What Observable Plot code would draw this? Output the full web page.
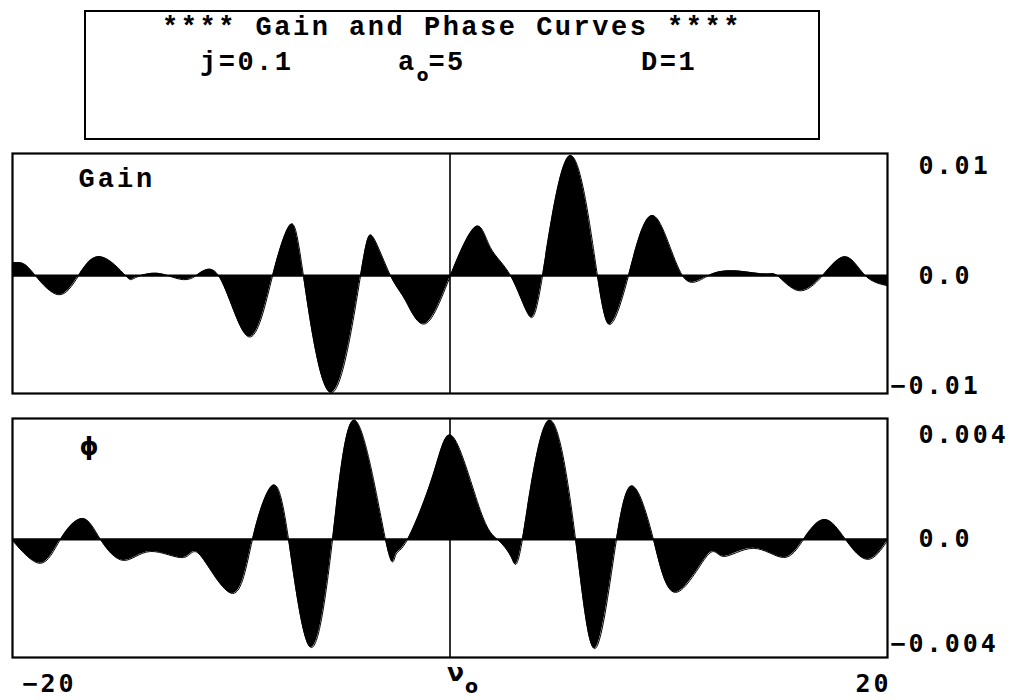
<!DOCTYPE html>
<html>
<head>
<meta charset="utf-8">
<script src="https://cdn.jsdelivr.net/npm/d3@7"></script>
<script src="https://cdn.jsdelivr.net/npm/@observablehq/plot@0.6"></script>
<style>
  body { margin: 0; background: #fff; }
  #wrap { position: relative; width: 1017px; height: 700px; overflow: hidden; background: #fff; }
  #titlebox { position: absolute; left: 84px; top: 10px; width: 732px; height: 126px; border: 2px solid #000; }
  .tt { position: absolute; font-family: "Liberation Mono", "DejaVu Sans Mono", monospace; font-weight: bold; font-size: 27px; line-height: 27px; letter-spacing: 2.5px; color: #000; white-space: nowrap; }
  .sub { font-family: "DejaVu Sans", sans-serif; font-size: 17px; position: relative; top: 11px; letter-spacing: 0; }
  .plotbox { position: absolute; left: 0; }
</style>
</head>
<body>
<div id="wrap">
  <div id="titlebox"></div>
  <div class="tt" id="t1" style="left:84px; width:736px; text-align:center; top:15px;"></div>
  <div class="tt" id="t2" style="left:200px; top:50px;"></div>
  <div class="tt" id="t3" style="left:398px; top:50px;"></div>
  <div class="tt" id="t4" style="left:641px; top:50px;"></div>
  <div class="plotbox" id="gainPlot" style="top:140px;"></div>
  <div class="plotbox" id="phasePlot" style="top:400px;"></div>
</div>
<script>
// ---- texts ----
const titleText = "**** Gain and Phase Curves ****";
const paramJ = "j=0.1";
const paramA = ["a", "o", "=5"];
const paramD = "D=1";
const gainLabel = "Gain";
const phaseLabel = "ϕ";
const xLabel = ["ν", "o"];

// ---- x axis ----
const xDomain = [-20, 20];
const xTicks = [-20, 20];
const xTickLabels = ["−20", "20"];

// ---- gain curve ----
const gainNu = [-20.0, -19.5, -18.95, -17.9, -16.98, -15.98, -14.83, -14.38, -13.23, -11.86, -10.58, -9.21, -8.11, -7.29, -6.7, -5.42, -4.09, -3.5, -2.72, -2.03, -1.12, 0.02, 1.17, 1.85, 2.77, 3.59, 4.23, 5.51, 6.74, 7.38, 8.16, 9.3, 10.63, 12.14, 14.19, 14.97, 15.93, 17.03, 18.08, 18.99, 20.0];
const gainVal = [0.00118, 0.00109, 0, -0.00173, 0, 0.00173, 0, -0.00018, 0.00018, -0.00027, 0, -0.00555, 0, 0.00464, 0, -0.01064, 0, 0.00345, 0, -0.00227, -0.00436, 0, 0.00445, 0.00255, 0, -0.00355, 0, 0.01091, 0, -0.00436, 0, 0.00545, 0, 0.00027, 0.00018, 0, -0.00136, 0, 0.00173, 0, -0.00091];
const gainDomain = [-0.0107, 0.0111];
const gainTicks = [0.01, 0, -0.01];
const gainTickLabels = ["0.01", "0.0", "−0.01"];

// ---- phase curve ----
const phaseNu = [-20.0, -18.72, -17.81, -16.8, -15.98, -14.93, -13.69, -12.18, -11.41, -9.94, -9.03, -8.11, -7.38, -6.38, -5.37, -4.32, -2.95, -2.49, -1.94, -0.75, 0.16, 1.39, 2.17, 2.81, 3.31, 4.5, 5.74, 6.65, 7.61, 8.39, 9.3, 10.31, 11.77, 12.5, 13.87, 15.25, 16.16, 17.12, 18.08, 19.09, 20.0];
const phaseVal = [-0.00004, -0.00091, 0, 0.0008, 0, -0.0008, -0.00046, -0.00069, -0.00061, -0.00206, 0, 0.00206, 0, -0.00411, 0, 0.00453, 0, -0.00061, 0, 0.00251, 0.00389, 0.0011, 0, -0.00069, 0, 0.00453, 0, -0.00415, 0, 0.00202, 0, -0.00202, -0.00061, -0.00065, -0.00034, -0.00069, 0, 0.00076, 0, -0.00076, -0.00004];
const phaseDomain = [-0.0045, 0.00461];
const phaseTicks = [0.004, 0, -0.004];
const phaseTickLabels = ["0.004", "0.0", "−0.004"];

// ---- title box texts ----
document.getElementById("t1").textContent = titleText;
document.getElementById("t2").textContent = paramJ;
document.getElementById("t3").innerHTML = paramA[0] + '<span class="sub">' + paramA[1] + '</span>' + paramA[2];
document.getElementById("t4").textContent = paramD;

const gain = gainNu.map((x, i) => ({x, y: gainVal[i]}));
const phase = phaseNu.map((x, i) => ({x, y: phaseVal[i]}));

const svgStyle = {
  fontFamily: "DejaVu Sans Mono", fontWeight: "bold", fontSize: "25px",
  letterSpacing: "3px", background: "transparent", overflow: "visible", color: "black"
};
const numText = {fontFamily: "DejaVu Sans Mono", fontWeight: "bold", fontSize: 25};
const fmt = (ticks, labels) => v => labels[ticks.indexOf(v)];
const CURVE = "natural";

function panelMarks(data, ticks, labels) {
  return [
    Plot.areaY(data, {x: "x", y: "y", fill: "black", curve: CURVE, clip: true}),
    Plot.lineY(data, {x: "x", y: "y", stroke: "black", strokeWidth: 1, curve: CURVE, clip: true}),
    Plot.ruleY([0], {stroke: "black", strokeWidth: 2.2}),
    Plot.ruleX([0], {stroke: "black", strokeWidth: 1.6}),
    Plot.frame({stroke: "black", strokeWidth: 2.2}),
    Plot.axisY(ticks.filter(v => v >= 0), {anchor: "right", tickSize: 0, tickPadding: 3, textAnchor: "start", dx: 28, label: null, tickFormat: fmt(ticks, labels), ...numText}),
    Plot.axisY(ticks.filter(v => v < 0), {anchor: "right", tickSize: 0, tickPadding: 3, textAnchor: "start", dx: 0, label: null, tickFormat: fmt(ticks, labels), ...numText})
  ];
}

const gainPlot = Plot.plot({
  width: 1017, height: 260,
  marginTop: 13, marginBottom: 7, marginLeft: 12, marginRight: 130,
  x: {domain: xDomain, axis: null},
  y: {domain: gainDomain, axis: null},
  style: svgStyle,
  marks: [
    ...panelMarks(gain, gainTicks, gainTickLabels),
    Plot.text([gainLabel], {frameAnchor: "top-left", text: d => d, dx: 66, dy: 14, fontFamily: "Liberation Mono", fontWeight: "bold", fontSize: 27})
  ]
});
document.getElementById("gainPlot").appendChild(gainPlot);

const phasePlot = Plot.plot({
  width: 1017, height: 300,
  marginTop: 18, marginBottom: 43, marginLeft: 12, marginRight: 130,
  x: {domain: xDomain, axis: null},
  y: {domain: phaseDomain, axis: null},
  style: svgStyle,
  marks: [
    ...panelMarks(phase, phaseTicks, phaseTickLabels),
    Plot.text([phaseLabel], {frameAnchor: "top-left", text: d => d, dx: 78, dy: 29, textAnchor: "middle", lineAnchor: "middle", fontFamily: "DejaVu Sans", fontWeight: "bold", fontSize: 24}),
    Plot.axisX([xTicks[0]], {anchor: "bottom", tickSize: 0, tickPadding: 3, textAnchor: "start", dx: 10, dy: 14, label: null, tickFormat: fmt(xTicks, xTickLabels), ...numText}),
    Plot.axisX([xTicks[1]], {anchor: "bottom", tickSize: 0, tickPadding: 3, textAnchor: "end", dx: 4, dy: 14, label: null, tickFormat: fmt(xTicks, xTickLabels), ...numText}),
    Plot.text([0], {x: d => d, frameAnchor: "bottom", text: () => xLabel[0], textAnchor: "start", lineAnchor: "top", dx: -3, dy: 6, fontFamily: "DejaVu Sans", fontWeight: "bold", fontSize: 25}),
    Plot.text([0], {x: d => d, frameAnchor: "bottom", text: () => xLabel[1], textAnchor: "start", lineAnchor: "top", dx: 15, dy: 22, fontFamily: "DejaVu Sans", fontWeight: "bold", fontSize: 19})
  ]
});
document.getElementById("phasePlot").appendChild(phasePlot);
</script>
</body>
</html>
